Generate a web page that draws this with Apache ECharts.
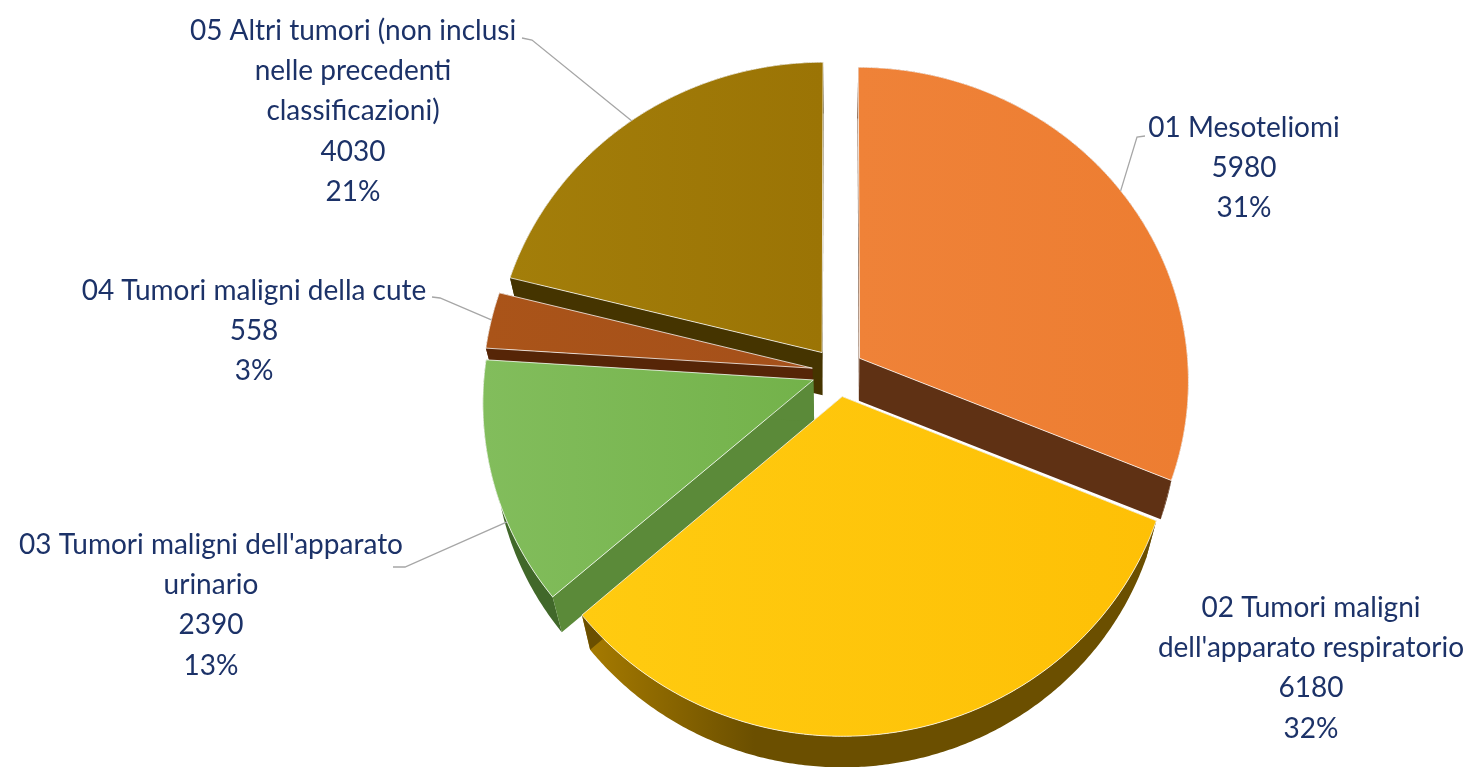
<!DOCTYPE html>
<html>
<head>
<meta charset="utf-8">
<style>html,body{margin:0;padding:0;background:#fff}#c{width:1470px;height:767px}</style>
<script src="https://cdn.jsdelivr.net/npm/echarts@6/dist/echarts.min.js"></script>
</head>
<body>
<div id="c"></div>
<script>
const categories = ["01 Mesoteliomi","02 Tumori maligni\ndell'apparato respiratorio","03 Tumori maligni dell'apparato\nurinario","04 Tumori maligni della cute","05 Altri tumori (non inclusi\nnelle precedenti\nclassificazioni)"];
const values = [5980,6180,2390,558,4030];
const percents = ["31%","32%","13%","3%","21%"];

// styling, one entry per slice
const topColors = [["#ef8238","#ed7d31"],["#ffcb10","#fec006"],["#82bd5c","#73b24a"],["#aa5419","#a5501a"],["#a37e0a","#9b7405"]];
const wallColors = ["#5f3114","#6b4f00","#5b8a39","#562507","#453400"];
const arcColors = [["#5f3114","#5f3114"],["#a87c00","#6b4f00"],["#4f7f30","#41682a"],["#562507","#562507"],["#453400","#453400"]];
const paintOrder = [1,4,3,2,0]; // z rank per slice: olive, orange, brown, green, yellow
// label layout: centre x, first line y, leader text-side points, leader pie angle
const labelLayout = [
  {x:1244,y:127.5,leader:[[1145,136],[1137,137]],angle:56},
  {x:1311,y:607.5},
  {x:211,y:544.5,leader:[[393,567],[405,567]],angle:244},
  {x:254,y:290.5,leader:[[432,297],[440,298]],angle:279},
  {x:353,y:30.5,leader:[[522,38],[532,40]],angle:322}
];
const pie = {cx:838,cy:372,R:329,k:0.951,p:0.000209,explode:26,depth:42,shrinkX:0.968,shrinkY:0.97};
const lineH = 40.4, fontSize = 28;
const total = values.reduce((a,b)=>a+b,0);
let acc = 0;
const spans = values.map(v=>{const a=acc/total*360; acc+=v; return [a,acc/total*360];});
const rad = d=>d*Math.PI/180;

function proj(u,v,lvl){
  const s=1/(1-pie.p*v);
  if(!lvl) return [pie.cx+u*s, pie.cy+pie.k*v*s];
  return [pie.cx+u*s*pie.shrinkX, pie.cy+pie.k*v*s*pie.shrinkY+pie.depth];
}
function offset(i){const m=rad((spans[i][0]+spans[i][1])/2);return [pie.explode*Math.sin(m),-pie.explode*Math.cos(m)];}
function rimPoint(i,deg,lvl){const o=offset(i),t=rad(deg);return proj(o[0]+pie.R*Math.sin(t),o[1]-pie.R*Math.cos(t),lvl);}
function arc(i,lvl){const [a,b]=spans[i];const n=Math.ceil((b-a)*2);const r=[];for(let j=0;j<=n;j++)r.push(rimPoint(i,a+(b-a)*j/n,lvl));return r;}
function grad(c){return new echarts.graphic.LinearGradient(0,0,1,0,[{offset:0,color:c[0]},{offset:.3,color:c[1]},{offset:1,color:c[1]}]);}
function grad2(c){return new echarts.graphic.LinearGradient(0,0,1,0,[{offset:0,color:c[0]},{offset:1,color:c[1]}]);}

function renderSlice(params,api){
  const i=api.value(1), rank=paintOrder[i]*10;
  const o=offset(i), top=arc(i,0), bot=arc(i,1);
  const a0=proj(o[0],o[1],0), a1=proj(o[0],o[1],1);
  const kids=[];
  kids.push({type:'polygon',z2:rank,shape:{points:top.concat(bot.slice().reverse())},style:{fill:grad(arcColors[i])}});
  kids.push({type:'polygon',z2:rank+1,shape:{points:[a0,top[0],bot[0],a1]},style:{fill:wallColors[i]}});
  kids.push({type:'polygon',z2:rank+1,shape:{points:[a0,top[top.length-1],bot[bot.length-1],a1]},style:{fill:wallColors[i]}});
  kids.push({type:'polygon',z2:rank+2,shape:{points:[a0].concat(top)},style:{fill:grad2(topColors[i]),stroke:'rgba(255,255,255,0.75)',lineWidth:1,lineJoin:'round'}});
  const L=labelLayout[i];
  if(L.leader){
    kids.push({type:'polyline',z2:100,shape:{points:L.leader.concat([rimPoint(i,L.angle,0)])},style:{fill:null,stroke:'#a6a6a6',lineWidth:1.3}});
  }
  const text=[categories[i],String(values[i]),percents[i]].join('\n');
  kids.push({type:'text',z2:101,style:{text:text,x:L.x,y:L.y-lineH/2,align:'center',verticalAlign:'top',lineHeight:lineH,
    fontFamily:'Lato',fontSize:fontSize,fill:'#1c3268'}});
  return {type:'group',children:kids};
}

const chart=echarts.init(document.getElementById('c'),null,{renderer:'canvas'});
chart.setOption({
  animation:false,
  backgroundColor:'#ffffff',
  series:[{type:'custom',coordinateSystem:'none',silent:true,clip:false,
    data:values.map((v,i)=>[v,i]),encode:{value:0},renderItem:renderSlice}]
});
</script>
</body>
</html>
